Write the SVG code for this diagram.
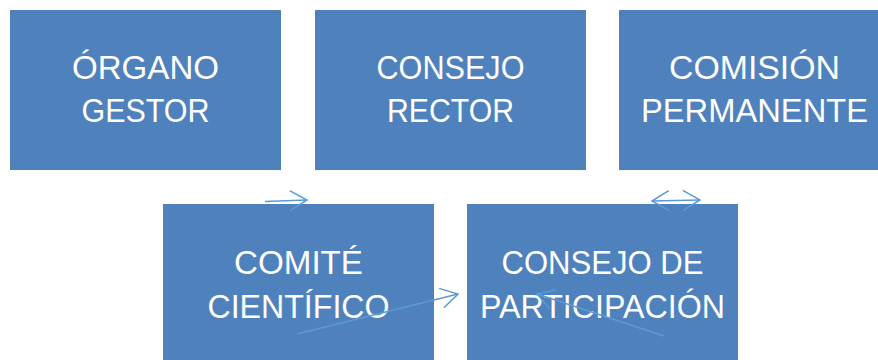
<svg xmlns="http://www.w3.org/2000/svg" width="878" height="360" viewBox="0 0 878 360">
<defs>
<style>
.box{fill:#4f81bd;}
.t{fill:#ffffff;font-family:"Liberation Sans",Arial,sans-serif;font-size:33px;text-anchor:middle;}
.c{fill:none;stroke:#5b9bd5;stroke-width:1.5;}
</style>
<marker id="ah" viewBox="-20 -12 22 24" refX="0" refY="0" markerWidth="22" markerHeight="24" markerUnits="userSpaceOnUse" orient="auto-start-reverse">
<path d="M -17 -10 L 0 0 L -17 10" fill="none" stroke="#5b9bd5" stroke-width="1.5"/>
</marker>
</defs>
<rect width="878" height="360" fill="#ffffff"/>
<g id="organo-gestor">
<rect class="box" x="10" y="10" width="271" height="160"/>
<text class="t" x="145.5" y="79" textLength="147" lengthAdjust="spacingAndGlyphs">ÓRGANO</text>
<text class="t" x="145.5" y="122" textLength="128" lengthAdjust="spacingAndGlyphs">GESTOR</text>
</g>
<g id="consejo-rector">
<rect class="box" x="315" y="10" width="271" height="160"/>
<text class="t" x="450.5" y="79" textLength="148" lengthAdjust="spacingAndGlyphs">CONSEJO</text>
<text class="t" x="450.5" y="122" textLength="127" lengthAdjust="spacingAndGlyphs">RECTOR</text>
</g>
<g id="comision-permanente">
<rect class="box" x="619" y="10" width="271" height="160"/>
<text class="t" x="754.5" y="79" textLength="171" lengthAdjust="spacingAndGlyphs">COMISIÓN</text>
<text class="t" x="754.5" y="122" textLength="227" lengthAdjust="spacingAndGlyphs">PERMANENTE</text>
</g>
<g id="comite-cientifico">
<rect class="box" x="163" y="204" width="271" height="160"/>
<text class="t" x="298.5" y="274" textLength="129" lengthAdjust="spacingAndGlyphs">COMITÉ</text>
<text class="t" x="298.5" y="318" textLength="182" lengthAdjust="spacingAndGlyphs">CIENTÍFICO</text>
</g>
<g id="consejo-participacion">
<rect class="box" x="467" y="204" width="271" height="160"/>
<text class="t" x="602.5" y="274" textLength="202" lengthAdjust="spacingAndGlyphs">CONSEJO DE</text>
<text class="t" x="602.5" y="318" textLength="245" lengthAdjust="spacingAndGlyphs">PARTICIPACIÓN</text>
</g>
<g id="connectors">
<line class="c" x1="265" y1="201.5" x2="307" y2="200" marker-end="url(#ah)"/>
<line class="c" x1="652" y1="201" x2="700" y2="200" marker-start="url(#ah)" marker-end="url(#ah)"/>
<line class="c" x1="297" y1="334" x2="458" y2="294" marker-end="url(#ah)"/>
<line class="c" x1="664" y1="336" x2="537" y2="294" marker-end="url(#ah)"/>
</g>
</svg>
